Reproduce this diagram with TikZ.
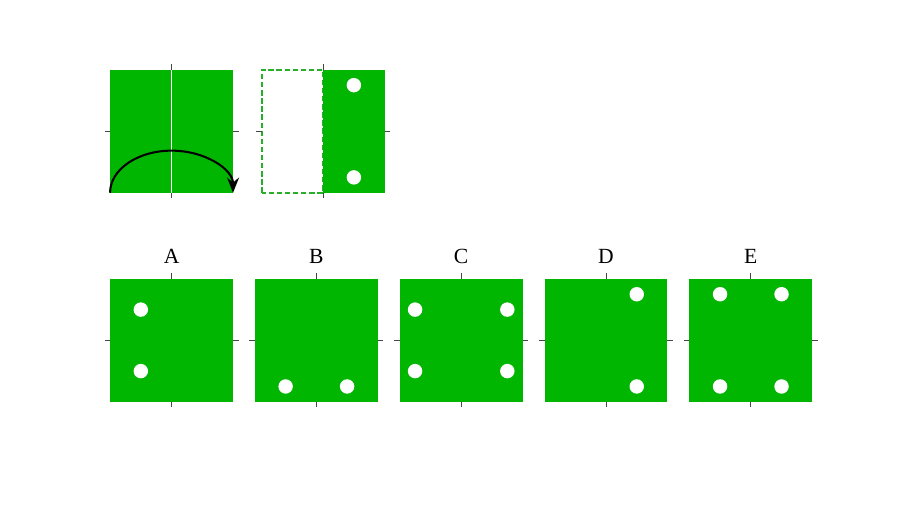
\documentclass[tikz,border=0pt]{standalone}
\usepackage{fontspec}
\setmainfont{Liberation Serif}
\usetikzlibrary{arrows.meta}
\definecolor{panel}{RGB}{0,182,0}
\definecolor{edge}{RGB}{40,175,40}
\definecolor{tickgray}{RGB}{70,70,70}

\newcommand{\sheetticks}{%
  \draw[tick] (2,4) -- ++(0,0.18) (0,2) -- ++(-0.18,0)
    (4,2) -- ++(0.18,0) (2,0) -- ++(0,-0.18);}

\begin{document}
\begin{tikzpicture}
  [board/.style={fill=panel},
   hole/.style={fill=white},
   tick/.style={tickgray, line width=0.8pt},
   fold/.style={white, line width=0.9pt},
   outline/.style={draw=edge, dash pattern=on 5pt off 2.5pt, line width=1.6pt},
   turn/.style={black, line width=1.9pt, -{Stealth[length=14pt,width=11pt]}},
   caption/.style={font=\fontsize{20}{22}\selectfont}]
  \useasboundingbox (0,0) rectangle (29.63,17.07);
  % the sheet and how it is folded
  \begin{scope}[shift={(3.58,10.8)}]
    \fill[board] (0,0) rectangle (4,4);
    \draw[fold] (2,0) -- (2,4);
    \draw[turn] (0,0) arc[start angle=180, end angle=0, x radius=2, y radius=1.37];
    \sheetticks
  \end{scope}
  % folded sheet with holes
  \begin{scope}[shift={(8.51,10.8)}]
    \draw[outline] (0,0) rectangle (2,4);
    \fill[board] (2,0) rectangle (4,4);
    \foreach \hx/\hy in {3/3.5,3/0.5}
      \fill[hole] (\hx,\hy) circle (0.235);
    \sheetticks
  \end{scope}
  % answers
  \foreach \lbl/\col/\holes in {A/0/{1/3,1/1}, B/1/{1/0.5,3/0.5},
      C/2/{0.5/3,3.5/3,0.5/1,3.5/1}, D/3/{3/3.5,3/0.5},
      E/4/{1/3.5,3/3.5,1/0.5,3/0.5}}{
    \begin{scope}[shift={(3.58+4.71*\col,4)}]
      \fill[board] (0,0) rectangle (4,4);
      \foreach \hx/\hy in \holes
        \fill[hole] (\hx,\hy) circle (0.235);
      \sheetticks
      \node[caption] (lbl\lbl) at (2,4.72) {\lbl};
    \end{scope}
  }
\end{tikzpicture}
\end{document}
